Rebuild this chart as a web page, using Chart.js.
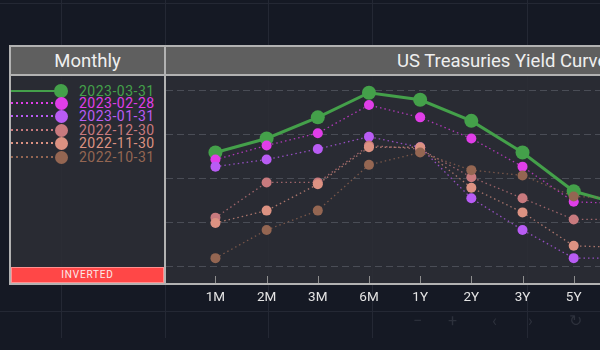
<!DOCTYPE html>
<html>
<head>
<meta charset="utf-8">
<script src="https://cdn.jsdelivr.net/npm/chart.js@4.4.0/dist/chart.umd.min.js"></script>
<style>
  * { box-sizing: border-box; }
  html, body { margin: 0; padding: 0; width: 600px; height: 350px; overflow: hidden; background: #151924; font-family: Roboto, "Noto Sans", sans-serif; }
  .gv { position: absolute; top: 0; width: 1px; height: 338px; background: #242834; }
  .gh { position: absolute; left: 0; width: 600px; height: 1px; background: #242834; }
  .body { position: absolute; top: 76px; height: 207px; background: rgba(44, 46, 53, 0.88); }
  .head { position: absolute; top: 47px; height: 27px; background: #5f5f5f; color: #efefef; font-size: 18.5px; line-height: 28px; }
  .bd { position: absolute; background: #b2b2b2; }
  #inv { position: absolute; left: 11px; top: 267px; width: 153px; height: 16px; background: #ff4747; border: 1px solid #ff9090; color: #fbeaea; font-size: 10px; letter-spacing: 0.8px; text-align: center; line-height: 14px; }
  .lg-line { position: absolute; left: 11px; width: 50px; height: 2px; }
  .lg-dot { position: absolute; border-radius: 50%; }
  .lg-txt { position: absolute; left: 79px; font-size: 14px; letter-spacing: 0.5px; line-height: 16px; }
  #wrap { position: absolute; left: 0; top: 0; width: 800px; height: 350px; }
  .tool { position: absolute; top: 311px; color: #2d313c; font-size: 16px; }
</style>
</head>
<body>
<div class="gv" style="left:61px"></div>
<div class="gv" style="left:165px"></div>
<div class="gv" style="left:268px"></div>
<div class="gv" style="left:372px"></div>
<div class="gv" style="left:527px"></div>
<div class="gh" style="top:3px"></div>
<div class="gh" style="top:311px"></div>

<div class="body" style="left:11px;width:153px"></div>
<div class="body" style="left:166px;width:450px"></div>
<div class="head" style="left:11px;width:153px;text-align:center">Monthly</div>
<div class="head" style="left:166px;width:450px;padding-left:231px;white-space:nowrap">US Treasuries Yield Curve</div>

<div id="legend"></div>
<div id="inv">INVERTED</div>

<div id="wrap"><canvas id="curve"></canvas></div>

<div class="bd" style="left:9px;top:45px;width:600px;height:2px"></div>
<div class="bd" style="left:9px;top:74px;width:600px;height:2px"></div>
<div class="bd" style="left:9px;top:283px;width:600px;height:2px"></div>
<div class="bd" style="left:9px;top:45px;width:2px;height:240px"></div>
<div class="bd" style="left:164px;top:45px;width:2px;height:240px"></div>

<span class="tool" style="left:413px">&minus;</span>
<span class="tool" style="left:448px">+</span>
<span class="tool" style="left:492px">&lsaquo;</span>
<span class="tool" style="left:528px">&rsaquo;</span>
<span class="tool" style="left:569px">&#8635;</span>

<script>
// tenors on the x axis
const tenors = ['1M', '2M', '3M', '6M', '1Y', '2Y', '3Y', '5Y', '7Y'];

// curve dates (legend order)
const seriesNames = ['2023-03-31', '2023-02-28', '2023-01-31', '2022-12-30', '2022-11-30', '2022-10-31'];
const seriesColors = ['#44a04a', '#e03ee8', '#b95cf4', '#c87a7e', '#dc9282', '#946652'];

// yields (%)
const y20230331 = [4.15, 4.23, 4.35, 4.49, 4.45, 4.33, 4.15, 3.93, 3.85];
const y20230228 = [4.11, 4.19, 4.26, 4.42, 4.35, 4.23, 4.07, 3.87, 3.86];
const y20230131 = [4.07, 4.11, 4.17, 4.24, 4.18, 3.89, 3.71, 3.55, 3.55];
const y20221230 = [3.78, 3.98, 3.98, 4.19, 4.17, 4.01, 3.89, 3.77, 3.77];
const y20221130 = [3.75, 3.82, 3.97, 4.18, 4.18, 3.95, 3.81, 3.62, 3.61];
const y20221031 = [3.55, 3.71, 3.82, 4.08, 4.15, 4.05, 4.02, 3.90, 3.89];

const yGrid = [3.5, 3.75, 4.0, 4.25, 4.5];

const allSeries = [y20230331, y20230228, y20230131, y20221230, y20221130, y20221031];

// legend panel
var legend = document.getElementById('legend');
var rowTops = [91, 103, 116, 130, 143, 157];
for (var i = 0; i < seriesNames.length; i++) {
  var c = seriesColors[i];
  var y = rowTops[i];
  var r = i == 0 ? 7 : 6.5;
  var line = document.createElement('div');
  line.className = 'lg-line';
  line.style.top = (y - 1) + 'px';
  line.style.background = i == 0 ? c : 'repeating-linear-gradient(90deg,' + c + ' 0 2px, transparent 2px 5px)';
  legend.appendChild(line);
  var dot = document.createElement('div');
  dot.className = 'lg-dot';
  dot.style.left = (61 - r) + 'px';
  dot.style.top = (y - r) + 'px';
  dot.style.width = dot.style.height = (2 * r) + 'px';
  dot.style.background = c;
  legend.appendChild(dot);
  var t = document.createElement('div');
  t.className = 'lg-txt';
  t.style.top = (y - 8) + 'px';
  t.style.color = c;
  t.textContent = seriesNames[i];
  legend.appendChild(t);
}

var datasets = allSeries.map(function (vals, i) {
  var main = i == 0;
  return {
    label: seriesNames[i],
    data: vals.map(function (v, k) { return { x: k, y: v }; }),
    borderColor: main ? seriesColors[i] : seriesColors[i] + 'bb',
    backgroundColor: seriesColors[i],
    borderWidth: main ? 3 : 1.3,
    borderDash: main ? [] : [1.5, 3],
    pointRadius: main ? 7 : 5,
    pointBorderWidth: 0,
    pointBackgroundColor: seriesColors[i],
    tension: 0,
    order: seriesNames.length - 1 - i
  };
});

// small tick marks pointing up into the plot
const innerTicks = {
  id: 'innerTicks',
  beforeDatasetsDraw(chart) {
    const { ctx, chartArea, scales } = chart;
    ctx.save();
    ctx.strokeStyle = '#8e8e8e';
    ctx.lineWidth = 1;
    scales.x.ticks.forEach(function (tk) {
      var px = Math.round(scales.x.getPixelForValue(tk.value)) + 0.5;
      ctx.beginPath();
      ctx.moveTo(px, chartArea.bottom - 8);
      ctx.lineTo(px, chartArea.bottom);
      ctx.stroke();
    });
    ctx.restore();
  }
};

new Chart(document.getElementById('curve').getContext('2d'), {
  type: 'line',
  data: { datasets: datasets },
  plugins: [innerTicks],
  options: {
    responsive: true,
    maintainAspectRatio: false,
    animation: false,
    layout: { padding: { left: 166, top: 76, right: 0, bottom: 0 } },
    plugins: { legend: { display: false }, tooltip: { enabled: false } },
    scales: {
      x: {
        type: 'linear',
        min: -0.966,
        max: 11.285,
        afterBuildTicks: function (s) { s.ticks = tenors.map(function (t, k) { return { value: k }; }); },
        afterFit: function (s) { s.height = 66; },
        ticks: {
          autoSkip: false,
          maxRotation: 0,
          padding: 6,
          color: '#e4e4e4',
          font: { family: 'Roboto', size: 13.5 },
          callback: function (v) { return tenors[v] || ''; }
        },
        grid: { display: false, drawTicks: false },
        border: { display: false }
      },
      y: {
        position: 'right',
        min: 3.403,
        max: 4.585,
        afterBuildTicks: function (s) { s.ticks = yGrid.map(function (v) { return { value: v }; }); },
        afterFit: function (s) { s.width = 0; },
        ticks: { display: false },
        grid: { color: '#4a4d56', lineWidth: 1, drawTicks: false },
        border: { display: false, dash: [7, 4] }
      }
    }
  }
});
</script>
</body>
</html>
